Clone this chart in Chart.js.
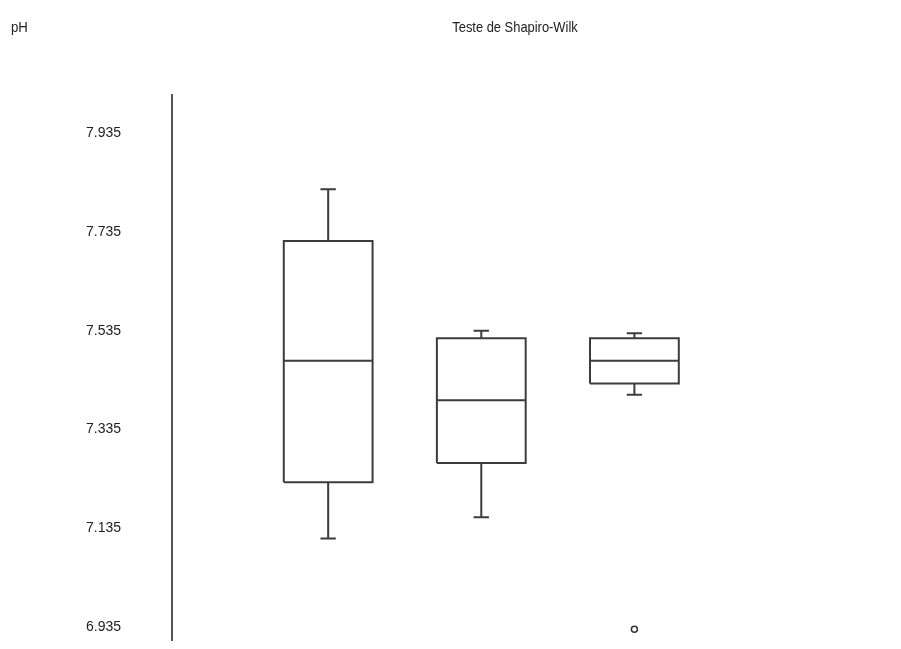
<!DOCTYPE html>
<html>
<head>
<meta charset="utf-8">
<script src="https://cdn.jsdelivr.net/npm/chart.js@4.4.0/dist/chart.umd.min.js"></script>
<style>
    body { margin: 0; background: #fff; }
    #wrap { position: relative; width: 901px; height: 649px; }
    .lbl { position: absolute; font-family: "Liberation Sans", Arial, sans-serif; font-size: 15px; line-height: 18px; color: #222; white-space: nowrap; }
    #yName { left: 11px; top: 18px; transform: scaleX(0.88); transform-origin: left center; }
    #title { left: 515px; top: 18px; transform: translateX(-50%) scaleX(0.86); }
</style>
</head>
<body>
<div id="wrap">
    <canvas id="boxChart"></canvas>
    <div class="lbl" id="yName">pH</div>
    <div class="lbl" id="title">Teste de Shapiro-Wilk</div>
</div>
<script>
// groups (no labels shown on the x axis)
const groups = [1, 2, 3];
const whiskerMax = [7.822, 7.535, 7.530];
const q3 = [7.717, 7.520, 7.520];
const medians = [7.474, 7.394, 7.474];
const q1 = [7.228, 7.267, 7.428];
const whiskerMin = [7.114, 7.157, 7.405];
const outliers = [{ group: 3, value: 6.930 }];
const tickValues = [6.935, 7.135, 7.335, 7.535, 7.735, 7.935];
const tickLabels = ["6.935", "7.135", "7.335", "7.535", "7.735", "7.935"];

const boxHalf = 0.29;
const capHalf = 0.05;
const gap = { x: null, y: null };

// box outlines + median
const boxPts = [];
groups.forEach((g, i) => {
    boxPts.push({ x: g - boxHalf, y: q1[i] }, { x: g + boxHalf, y: q1[i] },
        { x: g + boxHalf, y: q3[i] }, { x: g - boxHalf, y: q3[i] },
        { x: g - boxHalf, y: q1[i] }, gap);
    boxPts.push({ x: g - boxHalf, y: medians[i] }, { x: g + boxHalf, y: medians[i] }, gap);
});

// whiskers + caps
const whiskPts = [];
groups.forEach((g, i) => {
    whiskPts.push({ x: g, y: q3[i] }, { x: g, y: whiskerMax[i] }, gap);
    whiskPts.push({ x: g - capHalf, y: whiskerMax[i] }, { x: g + capHalf, y: whiskerMax[i] }, gap);
    whiskPts.push({ x: g, y: q1[i] }, { x: g, y: whiskerMin[i] }, gap);
    whiskPts.push({ x: g - capHalf, y: whiskerMin[i] }, { x: g + capHalf, y: whiskerMin[i] }, gap);
});

const lineColor = "#3c3c3c";

const ctx = document.getElementById("boxChart").getContext("2d");
new Chart(ctx, {
    type: "scatter",
    data: {
        datasets: [
            { data: boxPts, showLine: true, borderColor: lineColor, borderWidth: 2, pointRadius: 0, spanGaps: false, fill: false },
            { data: whiskPts, showLine: true, borderColor: lineColor, borderWidth: 2, pointRadius: 0, spanGaps: false, fill: false },
            {
                data: outliers.map(o => ({ x: o.group, y: o.value })),
                pointRadius: 3, borderWidth: 1.5, borderColor: "#333", backgroundColor: "#fff"
            }
        ]
    },
    options: {
        responsive: true,
        maintainAspectRatio: false,
        animation: false,
        layout: { padding: { top: 95, bottom: 9, left: 0, right: 40 } },
        plugins: { legend: { display: false }, tooltip: { enabled: false }, title: { display: false } },
        scales: {
            x: { type: "linear", display: false, min: -0.02, max: 4.48 },
            y: {
                min: 6.908,
                max: 8.013,
                // invisible tick marks only used to push the labels away from the axis line
                grid: { display: true, drawOnChartArea: false, drawTicks: true, tickLength: 51, tickColor: "rgba(0,0,0,0)" },
                border: { display: true, color: "#555", width: 2 },
                afterFit: scale => { scale.width = 172; },
                afterBuildTicks: scale => { scale.ticks = tickValues.map(v => ({ value: v })); },
                ticks: {
                    padding: 0,
                    color: "#222",
                    font: { family: "'Liberation Sans', Arial, sans-serif", size: 14 },
                    callback: (value, index) => tickLabels[index]
                }
            }
        }
    }
});
</script>
</body>
</html>
